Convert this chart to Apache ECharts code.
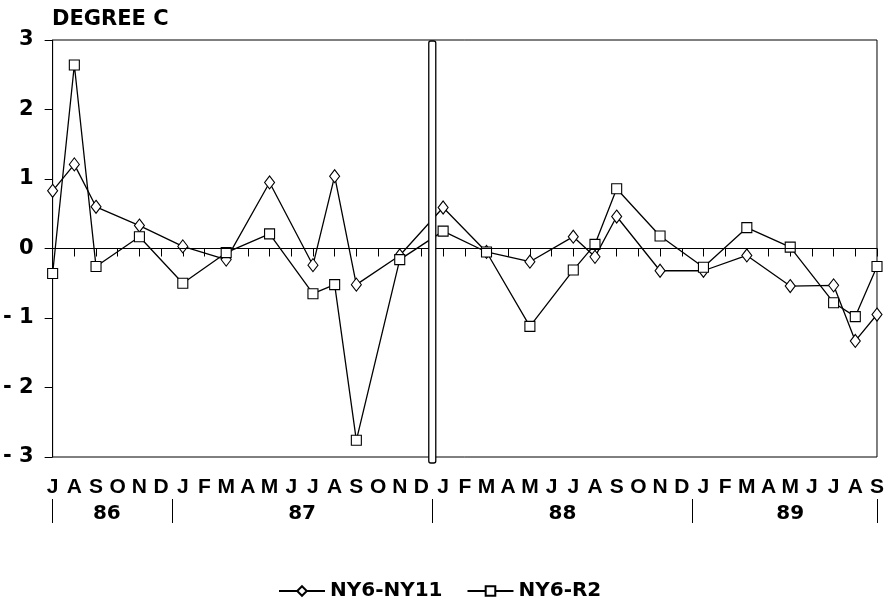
<!DOCTYPE html>
<html>
<head>
<meta charset="utf-8">
<script src="https://cdn.jsdelivr.net/npm/echarts@6/dist/echarts.min.js"></script>
<style>
  html, body { margin: 0; padding: 0; background: #fff; }
</style>
</head>
<body>
<div id="chart" style="width: 887px; height: 601px;"></div>
<script>

// months shown on the axis, grouped by year
const months86 = ['J', 'A', 'S', 'O', 'N', 'D'];
const months87 = ['J', 'F', 'M', 'A', 'M', 'J', 'J', 'A', 'S', 'O', 'N', 'D'];
const months88 = ['J', 'F', 'M', 'A', 'M', 'J', 'J', 'A', 'S', 'O', 'N', 'D'];
const months89 = ['J', 'F', 'M', 'A', 'M', 'J', 'J', 'A', 'S'];
const years = ['86', '87', '88', '89'];

// degree C differences, null where no reading
const ny6_ny11 = [0.83, 1.21, 0.60, null, 0.33, null,
    0.03, null, -0.16, null, 0.95, null, -0.24, 1.04, -0.52, null, -0.10, null,
    0.59, null, -0.05, null, -0.19, null, 0.17, -0.12, 0.46, null, -0.32, null,
    -0.32, null, -0.10, null, -0.54, null, -0.53, -1.33, -0.95];
const ny6_r2 = [-0.36, 2.64, -0.26, null, 0.17, null,
    -0.50, null, -0.06, null, 0.21, null, -0.65, -0.52, -2.76, null, -0.16, null,
    0.25, null, -0.05, null, -1.12, null, -0.31, 0.06, 0.86, null, 0.18, null,
    -0.27, null, 0.30, null, 0.02, null, -0.78, -0.98, -0.26];

const FONT = 'DejaVu Sans';
const FONT_NARROW = 'Liberation Sans';

// build categories + year spans
var groups = [months86, months87, months88, months89];
var categories = [];
var yearTicks = [0];
var yearMids = [];
var start = 0;
for (var g = 0; g < groups.length; g++) {
    for (var k = 0; k < groups[g].length; k++) {
        categories.push(groups[g][k] + '-' + years[g]);
    }
    var end = start + groups[g].length - 1;
    yearMids.push((start + end) / 2);
    yearTicks.push(g === groups.length - 1 ? end : end + 0.5);
    start = end + 1;
}
var last = categories.length - 1;

var chart = echarts.init(document.getElementById('chart'));

var option = {
    backgroundColor: '#fff',
    animation: false,
    title: {
        text: 'DEGREE C',
        left: 52,
        top: 9,
        padding: 0,
        textStyle: { fontFamily: FONT, fontWeight: 'bold', fontSize: 21, color: '#000' }
    },
    legend: {
        left: 273,
        top: 576,
        itemWidth: 46,
        itemHeight: 12,
        itemGap: 24,
        textStyle: { fontFamily: FONT, fontWeight: 'bold', fontSize: 20, color: '#000' },
        data: ['NY6-NY11', 'NY6-R2']
    },
    grid: {
        left: 52,
        right: 9,
        top: 40,
        bottom: 144,
        show: true,
        borderColor: '#000',
        borderWidth: 1
    },
    xAxis: [{
        type: 'category',
        data: categories,
        boundaryGap: false,
        axisLine: { lineStyle: { color: '#000', width: 1 } },
        axisTick: { show: true, interval: 0, length: 8, lineStyle: { color: '#000' } },
        axisLabel: {
            interval: 0,
            margin: 20,
            color: '#000',
            fontFamily: FONT_NARROW,
            fontWeight: 'bold',
            fontSize: 21,
            formatter: function (v) { return v.split('-')[0]; }
        },
        splitLine: { show: false }
    }, {
        type: 'value',
        min: 0,
        max: last,
        position: 'bottom',
        offset: 42,
        axisLine: { show: false },
        axisTick: { show: true, customValues: yearTicks, length: 24, lineStyle: { color: '#000' } },
        axisLabel: {
            customValues: yearMids,
            margin: 5,
            color: '#000',
            fontFamily: FONT,
            fontWeight: 'bold',
            fontSize: 20,
            formatter: function (v) { return years[yearMids.indexOf(v)]; }
        },
        splitLine: { show: false }
    }],
    yAxis: {
        type: 'value',
        min: -3,
        max: 3,
        interval: 1,
        axisLine: { show: true, lineStyle: { color: '#000', width: 1 } },
        axisTick: { show: true, length: 8, lineStyle: { color: '#000' } },
        axisLabel: {
            margin: 19,
            color: '#000',
            fontFamily: FONT,
            fontWeight: 'bold',
            fontSize: 21,
            formatter: function (v) { return v < 0 ? '- ' + Math.abs(v) : String(v); }
        },
        splitLine: { show: false }
    },
    series: [{
        name: 'NY6-NY11',
        type: 'line',
        data: ny6_ny11,
        connectNulls: true,
        symbol: 'diamond',
        symbolSize: [10, 13],
        showAllSymbol: true,
        lineStyle: { color: '#000', width: 1.3 },
        itemStyle: { color: '#fff', borderColor: '#000', borderWidth: 1.1 },
        z: 3,
        markLine: {
            silent: true,
            symbol: 'none',
            label: { show: false },
            lineStyle: { color: '#000', width: 1, type: 'solid' },
            data: [{ yAxis: 0 }]
        }
    }, {
        name: 'NY6-R2',
        type: 'line',
        data: ny6_r2,
        connectNulls: true,
        symbol: 'rect',
        symbolSize: 10,
        showAllSymbol: true,
        lineStyle: { color: '#000', width: 1.3 },
        itemStyle: { color: '#fff', borderColor: '#000', borderWidth: 1.1 },
        z: 3
    }]
};

chart.setOption(option);

// double-line break between 1987 and 1988
var xa = chart.convertToPixel({ xAxisIndex: 0 }, 17);
var xb = chart.convertToPixel({ xAxisIndex: 0 }, 18);
var yTop = chart.convertToPixel({ yAxisIndex: 0 }, 3);
var yBot = chart.convertToPixel({ yAxisIndex: 0 }, -3);
var mid = (xa + xb) / 2;
chart.setOption({
    graphic: [{
        type: 'rect',
        z: 100,
        shape: { x: mid - 3.5, y: yTop + 1, width: 7, height: yBot - yTop + 5, r: 2 },
        style: { fill: '#fff', stroke: '#000', lineWidth: 1.3 }
    }]
});
</script>
</body>
</html>
